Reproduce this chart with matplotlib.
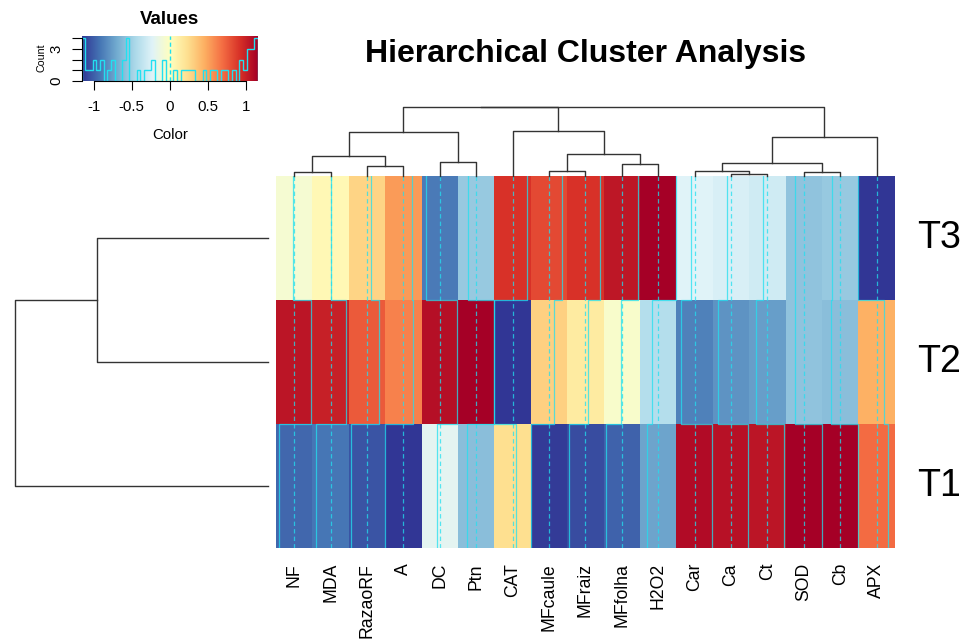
import numpy as np
import matplotlib
matplotlib.use('Agg')
import matplotlib.pyplot as plt
from matplotlib.colors import Normalize

plt.rcParams['font.family'] = ['Liberation Sans', 'DejaVu Sans']

# rótulos das colunas (ordem do dendrograma) e linhas (de baixo para cima)
col_labels = ['NF', 'MDA', 'RazaoRF', 'A', 'DC', 'Ptn', 'CAT', 'MFcaule', 'MFraiz',
              'MFfolha', 'H2O2', 'Car', 'Ca', 'Ct', 'SOD', 'Cb', 'APX']
row_labels = ['T1', 'T2', 'T3']

# valores padronizados por coluna (z-score)
t1 = [-0.97, -0.92, -1.04, -1.15, -0.20, -0.60, 0.23, -1.13, -1.07, -0.99, -0.73,
      1.10, 1.07, 1.05, 1.155, 1.15, 0.70]
t2 = [1.05, 1.00, 0.76, 0.62, 1.08, 1.15, -1.15, 0.30, 0.15, -0.05, -0.42,
      -0.87, -0.80, -0.75, -0.577, -0.60, 0.45]
t3 = [-0.08, 0.05, 0.28, 0.53, -0.90, -0.55, 0.92, 0.83, 0.92, 1.04, 1.15,
      -0.23, -0.27, -0.30, -0.577, -0.55, -1.15]

# dendrogramas: [filho esq, filho dir, altura]; folhas 0..n-1, nós n, n+1, ...
col_links = [[0, 1, 0.43], [2, 3, 1.03], [17, 18, 2.06], [4, 5, 1.43], [19, 20, 4.40],
             [7, 8, 0.53], [9, 10, 1.20], [22, 23, 2.23], [6, 24, 4.53],
             [12, 13, 0.23], [11, 26, 0.53], [14, 15, 0.43], [27, 28, 1.30],
             [29, 16, 3.96], [21, 25, 6.90], [31, 30, 6.93]]
row_links = [[2, 1, 17.1], [0, 3, 25.3]]

W, H = 968, 644
lo, hi = -1.155, 1.155
cmap = plt.get_cmap('RdYlBu_r')
norm = Normalize(lo, hi)
trace_col = '#22e0f0'

data = np.array([t1, t2, t3])
ncol = len(col_labels)
nrow = len(row_labels)


def fy(py):
    return 1 - py / H


def dendro_segments(links, n):
    x = [i + 0.5 for i in range(n)]
    h = [0.0] * n
    segs = []
    for a, b, hh in links:
        segs.append(([x[a], x[a], x[b], x[b]], [h[a], hh, hh, h[b]]))
        x.append((x[a] + x[b]) / 2)
        h.append(hh)
    return segs


fig = plt.figure(figsize=(W / 100, H / 100), dpi=100)

# heatmap
ax = fig.add_axes([276 / W, fy(547.5), 618.8 / W, 371.2 / H])
ax.pcolormesh(np.arange(ncol + 1), np.arange(nrow + 1), data, cmap=cmap, norm=norm)
for j in range(ncol):
    xs = j + (data[:, j] - lo) / (hi - lo)
    ax.plot(np.repeat(xs, 2), [0, 1, 1, 2, 2, 3], color=trace_col, lw=0.9, alpha=0.75)
    ax.plot([j + 0.5, j + 0.5], [0, 3], color=trace_col, lw=0.9, alpha=0.75,
            ls=(0, (3.5, 2.5)))
ax.set_xlim(0, ncol)
ax.set_ylim(0, nrow)
ax.axis('off')

# dendrograma das colunas
axc = fig.add_axes([276 / W, fy(176.3), 618.8 / W, 76.3 / H])
for xs, ys in dendro_segments(col_links, ncol):
    axc.plot(xs, ys, color='#333333', lw=1.0, clip_on=False)
axc.set_xlim(0, ncol)
axc.set_ylim(0, 7.63)
axc.axis('off')

# dendrograma das linhas
axr = fig.add_axes([0, fy(547.5), 267.7 / W, 371.2 / H])
for ys, xs in dendro_segments(row_links, nrow):
    axr.plot(xs, ys, color='#333333', lw=1.0, clip_on=False)
axr.set_xlim(26.77, 0)
axr.set_ylim(0, nrow)
axr.axis('off')

# rótulos
for j, lab in enumerate(col_labels):
    fig.text((276 + (j + 0.5) * 618.8 / ncol) / W, fy(563), lab, rotation=90,
             ha='center', va='top', fontsize=12.7)
for i, lab in enumerate(row_labels):
    cy = 547.5 - (i + 0.5) * 371.2 / nrow
    fig.text(917 / W, fy(cy), lab, ha='left', va='center', fontsize=27)

fig.text(585.5 / W, fy(61.7), 'Hierarchical Cluster Analysis', ha='center',
         va='baseline', fontsize=23, fontweight='bold')

# chave de cores com histograma
axk = fig.add_axes([81.7 / W, fy(81), 176 / W, 45 / H])
counts, edges = np.histogram(data.ravel(), bins=np.linspace(lo, hi, 49))
ymax = counts.max() / 0.95
axk.imshow(np.linspace(lo, hi, 256)[None, :], extent=(lo, hi, 0, ymax), aspect='auto',
           cmap=cmap, norm=norm)
axk.stairs(counts, edges, color=trace_col, lw=1.0)
axk.axvline(0, color=trace_col, lw=1.0, ls=(0, (3, 2)))
axk.set_xlim(lo, hi)
axk.set_ylim(0, ymax)
axk.set_xticks([-1, -0.5, 0, 0.5, 1])
axk.set_xticklabels(['-1', '-0.5', '0', '0.5', '1'])
yt = list(range(0, counts.max() + 1))
axk.set_yticks(yt)
axk.set_yticklabels([str(v) if v in (0, 3) else '' for v in yt], rotation=90, va='center')
axk.tick_params(axis='x', length=6.5, width=0.8, pad=7, labelsize=10.8)
axk.tick_params(axis='y', length=7, width=0.8, pad=6, labelsize=10.8)
for s in ['top', 'right']:
    axk.spines[s].set_visible(False)
axk.spines['bottom'].set_bounds(-1, 1)
axk.spines['left'].set_bounds(0, counts.max())
axk.spines['bottom'].set_linewidth(0.8)
axk.spines['left'].set_linewidth(0.8)

fig.text(169.7 / W, fy(19.3), 'Values', ha='center', va='center', fontsize=13.5,
         fontweight='bold')
fig.text(169.7 / W, fy(135), 'Color', ha='center', va='center', fontsize=10.8)
fig.text(41.7 / W, fy(57.5), 'Count', ha='center', va='center', fontsize=7.7, rotation=90)

fig.savefig('out.png', dpi=100)
